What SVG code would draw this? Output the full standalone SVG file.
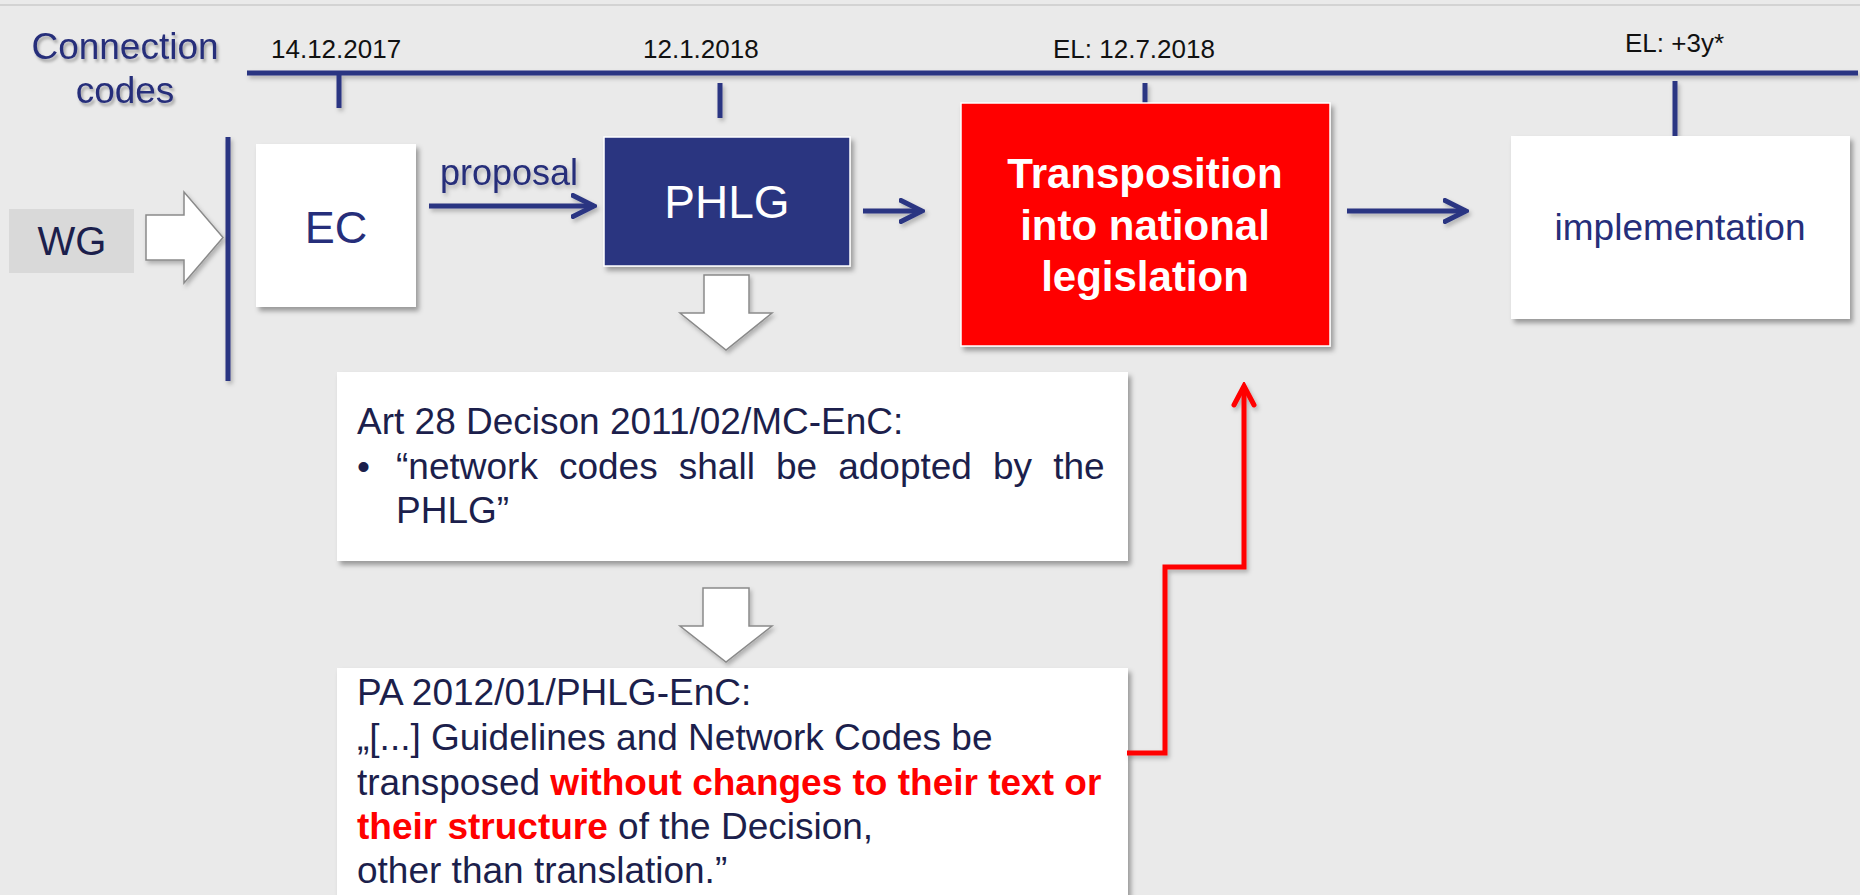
<svg xmlns="http://www.w3.org/2000/svg" width="1860" height="895" viewBox="0 0 1860 895">
<defs>
<style>
.t{font-family:"Liberation Sans",Arial,sans-serif}
.navy{fill:#262E7A}
.dark{fill:#1C1F4C}
.date{font-size:26px;fill:#111}
.line{stroke:#2B3582;stroke-width:5;fill:none}
.box{fill:#fff;filter:url(#sh)}
.barrow{fill:#fff;stroke:#8A8A8A;stroke-width:1.5;filter:url(#sh2)}
</style>
<filter id="sh" x="-10%" y="-10%" width="130%" height="130%">
<feDropShadow dx="3" dy="4" stdDeviation="2.5" flood-color="#000" flood-opacity="0.35"/>
</filter>
<filter id="sh2" x="-20%" y="-20%" width="150%" height="150%">
<feDropShadow dx="2" dy="3" stdDeviation="2" flood-color="#000" flood-opacity="0.25"/>
</filter>
<filter id="tsh" x="-10%" y="-20%" width="130%" height="150%">
<feDropShadow dx="2" dy="3" stdDeviation="1.5" flood-color="#000" flood-opacity="0.3"/>
</filter>
<marker id="ah" viewBox="0 0 26 26" refX="23" refY="13" markerWidth="26" markerHeight="26" markerUnits="userSpaceOnUse" orient="auto">
<path d="M2,2.5 L23,13 L2,23.5" fill="none" stroke="#2B3582" stroke-width="5" stroke-linecap="round" stroke-linejoin="miter"/>
</marker>
<marker id="ahr" viewBox="0 0 26 26" refX="22" refY="13" markerWidth="26" markerHeight="26" markerUnits="userSpaceOnUse" orient="auto">
<path d="M3,3 L22,13 L3,23" fill="none" stroke="#FF0000" stroke-width="5" stroke-linecap="round" stroke-linejoin="miter"/>
</marker>
</defs>
<rect x="0" y="0" width="1860" height="895" fill="#EAEAEA"/>
<rect x="0" y="4" width="1860" height="2" fill="#D3D3D3"/>

<g id="title">
<text class="t navy" font-size="37" text-anchor="middle" filter="url(#tsh)"><tspan x="125" y="59">Connection</tspan><tspan x="125" y="103">codes</tspan></text>
</g>

<g id="timeline" filter="url(#sh2)">
<line class="line" x1="247" y1="73" x2="1858" y2="73"/>
<line class="line" x1="339" y1="75" x2="339" y2="108"/>
<line class="line" x1="720" y1="83" x2="720" y2="118"/>
<line class="line" x1="1145" y1="83" x2="1145" y2="104"/>
<line class="line" x1="1675" y1="81" x2="1675" y2="136"/>
<line class="line" x1="228" y1="137" x2="228" y2="381"/>
</g>
<g id="dates">
<text class="t date" x="271" y="58">14.12.2017</text>
<text class="t date" x="643" y="58">12.1.2018</text>
<text class="t date" x="1053" y="58">EL: 12.7.2018</text>
<text class="t date" x="1625" y="52">EL: +3y*</text>
</g>

<g id="wg">
<rect x="9" y="209" width="125" height="64" fill="#D9D9D9"/>
<text class="t dark" x="72" y="255" font-size="40" text-anchor="middle">WG</text>
</g>

<g id="block-arrows">
<polygon class="barrow" points="146,215 184,215 184,192 223,237.5 184,283 184,260 146,260"/>
<polygon class="barrow" points="704,275 749,275 749,313 772,313 726,350 680,313 704,313"/>
<polygon class="barrow" points="703,588 749,588 749,626 772,626 726,662 680,626 703,626"/>
</g>

<g id="ec">
<rect class="box" x="256" y="144" width="160" height="163"/>
<text class="t navy" x="336" y="243" font-size="45" text-anchor="middle">EC</text>
</g>

<g id="phlg">
<rect x="604" y="137" width="246" height="129" fill="#2A3580" stroke="#fff" stroke-width="1.5" filter="url(#sh)"/>
<text class="t" x="727" y="218" font-size="46" fill="#fff" text-anchor="middle">PHLG</text>
</g>

<g id="transposition">
<rect x="961" y="103" width="369" height="243" fill="#FF0000" stroke="#fff" stroke-width="1.5" filter="url(#sh)"/>
<text class="t" font-size="42" font-weight="bold" fill="#fff" text-anchor="middle"><tspan x="1145" y="188">Transposition</tspan><tspan x="1145" y="240">into national</tspan><tspan x="1145" y="291">legislation</tspan></text>
</g>

<g id="implementation">
<rect class="box" x="1511" y="136" width="339" height="183"/>
<text class="t navy" x="1680" y="240" font-size="37" text-anchor="middle">implementation</text>
</g>

<g id="art28">
<rect class="box" x="337" y="372" width="791" height="189"/>
<text class="t dark" font-size="37">
<tspan x="357" y="434">Art 28 Decison 2011/02/MC-EnC:</tspan>
<tspan x="357" y="479">•</tspan>
</text>
<text class="t dark" font-size="37" x="396" y="479" word-spacing="10.8">“network codes shall be adopted by the</text>
<text class="t dark" font-size="37" x="396" y="523">PHLG”</text>
</g>

<g id="pa2012">
<rect class="box" x="337" y="668" width="791" height="240"/>
<text class="t dark" font-size="37">
<tspan x="357" y="705">PA 2012/01/PHLG-EnC:</tspan>
<tspan x="357" y="750">„[...] Guidelines and Network Codes be</tspan>
<tspan x="357" y="795">transposed <tspan font-weight="bold" fill="#FF0000">without changes to their text or</tspan></tspan>
<tspan x="357" y="839"><tspan font-weight="bold" fill="#FF0000">their structure</tspan> of the Decision,</tspan>
<tspan x="357" y="883">other than translation.”</tspan>
</text>
</g>

<g id="connectors" filter="url(#sh2)">
<line class="line" x1="429" y1="206" x2="594" y2="206" marker-end="url(#ah)"/>
<text class="t navy" x="440" y="185" font-size="36">proposal</text>
<line class="line" x1="863" y1="211" x2="922" y2="211" marker-end="url(#ah)"/>
<line class="line" x1="1347" y1="211" x2="1466" y2="211" marker-end="url(#ah)"/>
<polyline points="1127,753 1165,753 1165,567 1244,567 1244,386" fill="none" stroke="#FF0000" stroke-width="5" stroke-linejoin="miter" marker-end="url(#ahr)"/>
</g>
</svg>
